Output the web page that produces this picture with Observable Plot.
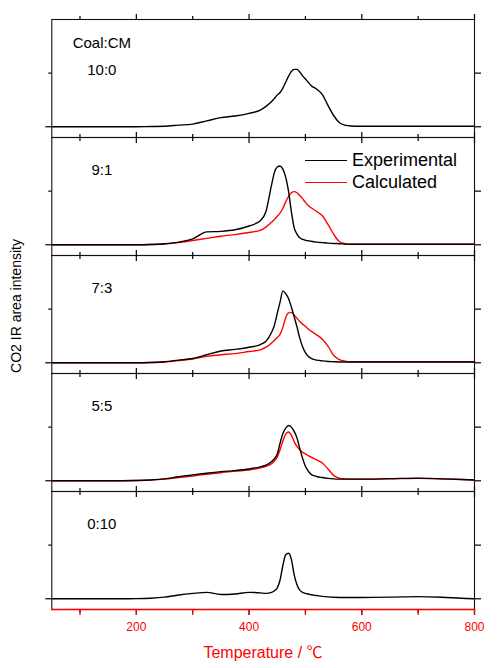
<!DOCTYPE html>
<html><head><meta charset="utf-8">
<script src="https://cdn.jsdelivr.net/npm/d3@7"></script>
<script src="https://cdn.jsdelivr.net/npm/@observablehq/plot@0.6"></script>
<style>
body{margin:0;background:#fff;font-family:"Liberation Sans",Arial,sans-serif;}
#wrap{position:relative;width:500px;height:668px;}
.ov{position:absolute;white-space:nowrap;}
</style></head><body><div id="wrap"></div>
<script>
const panels = ["10:0","9:1","7:3","5:5","0:10"];
const temps = [50,100,150,200,225,250,275,300,325,350,375,400,420,430,440,445,450,455,460,465,470,475,480,485,490,495,500,505,510,520,530,540,550,560,570,580,600,650,700,750,800];
const exp10_0 = [0,0,0,0,0.005,0.01,0.03,0.05,0.11,0.17, 0.2,0.25,0.31,0.38,0.47,0.53,0.59,0.64,0.72,0.83, 0.94,1.03,1.07,1.07,1.02,0.95,0.89,0.83,0.77,0.70, 0.60,0.40,0.21,0.08,0.03,0.015,0.01,0.01,0.01,0.01, 0.01];
const exp9_1 = [0,0,0,0,0.005,0.02,0.05,0.11,0.24,0.25, 0.28,0.35,0.45,0.62,1.12,1.35,1.45,1.47,1.41,1.26, 1.0,0.62,0.32,0.2,0.13,0.1,0.085,0.075,0.065,0.05, 0.04,0.03,0.025,0.02,0.015,0.01,0.01,0.01,0.01,0.01, 0.01];
const calc9_1 = [0,0,0,0,0.005,0.015,0.04,0.08,0.12,0.16, 0.19,0.23,0.27,0.33,0.42,0.47,0.53,0.59,0.68,0.8, 0.9,0.97,0.99,0.97,0.92,0.86,0.79,0.73,0.69,0.62, 0.54,0.38,0.2,0.06,0.02,0.01,0.01,0.01,0.01,0.01, 0.01];
const exp7_3 = [0,0,0,0,0.005,0.02,0.05,0.08,0.15,0.22, 0.25,0.29,0.34,0.40,0.57,0.70,0.92,1.13,1.34,1.29, 1.20,1.04,0.86,0.67,0.46,0.30,0.19,0.12,0.08,0.05, 0.035,0.025,0.02,0.015,0.015,0.015,0.015,0.015,0.015,0.015, 0.015];
const calc7_3 = [0,0,0,0,0.005,0.015,0.04,0.07,0.12,0.15, 0.17,0.21,0.24,0.29,0.37,0.42,0.47,0.53,0.66,0.84, 0.93,0.94,0.89,0.83,0.77,0.72,0.68,0.63,0.59,0.52, 0.44,0.31,0.14,0.06,0.03,0.02,0.02,0.02,0.02,0.02, 0.02];
const exp5_5 = [0,0,0,0.005,0.015,0.035,0.075,0.11,0.14,0.17, 0.19,0.22,0.26,0.29,0.36,0.41,0.50,0.70,0.88,0.98, 1.03,1.0,0.92,0.8,0.6,0.42,0.27,0.18,0.12,0.08, 0.06,0.045,0.035,0.03,0.03,0.03,0.03,0.04,0.05,0.035, 0.015];
const calc5_5 = [0,0,0,0.005,0.012,0.03,0.06,0.09,0.12,0.15, 0.18,0.20,0.24,0.27,0.32,0.37,0.44,0.58,0.74,0.87, 0.91,0.85,0.73,0.64,0.58,0.53,0.50,0.47,0.44,0.39, 0.33,0.22,0.1,0.05,0.035,0.03,0.03,0.035,0.045,0.03, 0.015];
const exp0_10 = [0,0,0,0.003,0.01,0.03,0.07,0.1,0.12,0.08, 0.09,0.12,0.11,0.10,0.12,0.15,0.2,0.35,0.62,0.82, 0.85,0.74,0.45,0.26,0.16,0.12,0.10,0.09,0.075,0.06, 0.045,0.035,0.028,0.025,0.025,0.025,0.025,0.03,0.04,0.025, 0];
const xMajor = [200,400,600,800];
const xMinor = [100,300,500,700];
const kinds = ["Experimental","Calculated"];

const series = [
  {panel:"10:0", kind:"Experimental", v:exp10_0},
  {panel:"9:1", kind:"Calculated", v:calc9_1},
  {panel:"9:1", kind:"Experimental", v:exp9_1},
  {panel:"7:3", kind:"Calculated", v:calc7_3},
  {panel:"7:3", kind:"Experimental", v:exp7_3},
  {panel:"5:5", kind:"Calculated", v:calc5_5},
  {panel:"5:5", kind:"Experimental", v:exp5_5},
  {panel:"0:10", kind:"Experimental", v:exp0_10}
];
const rows = series.flatMap(s => temps.map((t,i) => ({panel:s.panel, kind:s.kind, t, v:s.v[i]})));
const blank = () => "";

const chart = Plot.plot({
  width:500, height:668,
  marginLeft:51.3, marginRight:26, marginTop:19, marginBottom:58.7,
  x:{domain:[50,800]},
  y:{domain:[-0.2,2]},
  fy:{domain:panels, padding:0, axis:null},
  color:{domain:kinds, range:["#000000","#ff0000"]},
  style:{fontFamily:"'Liberation Sans', Arial, sans-serif", fontSize:"15px", background:"#fff"},
  marks:[
    Plot.line(rows, {x:"t", y:"v", fy:"panel", z:"kind", stroke:"kind", curve:"monotone-x", strokeWidth:1.4}),
    Plot.frame({stroke:"#111", strokeWidth:1.1}),
    Plot.axisX({anchor:"top", facetAnchor:null, ticks:xMajor, tickSize:6, tickFormat:blank, label:null, strokeWidth:1.2}),
    Plot.axisX({anchor:"top", facetAnchor:null, ticks:xMinor, tickSize:4, tickFormat:blank, label:null, strokeWidth:1.2}),
    Plot.axisX({anchor:"bottom", facetAnchor:null, ticks:xMajor, tickSize:6, tickFormat:blank, label:null, strokeWidth:1.2}),
    Plot.axisX({anchor:"bottom", facetAnchor:null, ticks:xMinor, tickSize:4, tickFormat:blank, label:null, strokeWidth:1.2}),
    Plot.axisY({anchor:"left", facetAnchor:null, ticks:[0], tickSize:6, tickFormat:blank, label:null, strokeWidth:1.2}),
    Plot.axisY({anchor:"left", facetAnchor:null, ticks:[1], tickSize:3, tickFormat:blank, label:null, strokeWidth:1.2}),
    Plot.axisY({anchor:"right", facetAnchor:null, ticks:[0,1], tickSize:6, tickFormat:blank, label:null, strokeWidth:1.2}),
    Plot.frame({anchor:"bottom", stroke:"#ff0000", strokeWidth:1.3, facetAnchor:"bottom"}),
    Plot.axisX({anchor:"bottom", facetAnchor:"bottom", ticks:xMajor, tickSize:6, tickPadding:7, tickFormat:d3.format("d"), label:null, color:"#ff0000", stroke:"#ff0000", fill:"#ff0000", fontSize:12, strokeWidth:1.3}),
    Plot.axisX({anchor:"bottom", facetAnchor:"bottom", ticks:xMinor, tickSize:6, tickFormat:blank, label:null, stroke:"#ff0000", strokeWidth:1.3}),
    Plot.text(panels.slice(1), {fy:d=>d, text:d=>d, frameAnchor:"top-left", dx:50, dy:33, textAnchor:"middle", lineAnchor:"middle", fill:"#000"}),
    Plot.text(panels.slice(0,1), {fy:d=>d, text:d=>d, frameAnchor:"top-left", dx:50, dy:51, textAnchor:"middle", lineAnchor:"middle", fill:"#000"}),
    Plot.text(panels.slice(0,1), {fy:d=>d, text:()=>"Coal:CM", frameAnchor:"top-left", dx:50, dy:24, textAnchor:"middle", lineAnchor:"middle", fill:"#000"})
  ]
});
const wrap = document.getElementById("wrap");
wrap.appendChild(chart);

// legend
const leg = document.createElement("div");
leg.className = "ov";
leg.style.left = "305px"; leg.style.top = "149px";
leg.style.fontSize = "18px";
kinds.forEach((k,i) => {
  const row = document.createElement("div");
  row.style.display = "flex"; row.style.alignItems = "center"; row.style.height = "22px";
  const ln = document.createElement("span");
  ln.style.display = "inline-block"; ln.style.width = "42px"; ln.style.height = "0";
  ln.style.borderTop = "1.5px solid " + (i === 0 ? "#000" : "#ff0000");
  ln.style.marginRight = "5px";
  const tx = document.createElement("span");
  tx.textContent = k;
  row.appendChild(ln); row.appendChild(tx);
  leg.appendChild(row);
});
wrap.appendChild(leg);

// y label
const yl = document.createElement("div");
yl.className = "ov";
yl.textContent = "CO2 IR area intensity";
yl.style.fontSize = "14px";
yl.style.left = "16px"; yl.style.top = "306px";
yl.style.transform = "translate(-50%,-50%) rotate(-90deg)";
wrap.appendChild(yl);

// x label
const xl = document.createElement("div");
xl.className = "ov";
xl.style.fontSize = "16px";
xl.style.color = "#ff0000";
xl.style.left = "263px"; xl.style.top = "651px";
xl.style.transform = "translate(-50%,-50%)";
const xt = document.createElement("span");
xt.textContent = "Temperature / ";
const xc = document.createElement("span");
xc.textContent = "℃";
xc.style.fontFamily = "'Noto Sans CJK JP', sans-serif";
xl.appendChild(xt); xl.appendChild(xc);
wrap.appendChild(xl);
</script></body></html>
